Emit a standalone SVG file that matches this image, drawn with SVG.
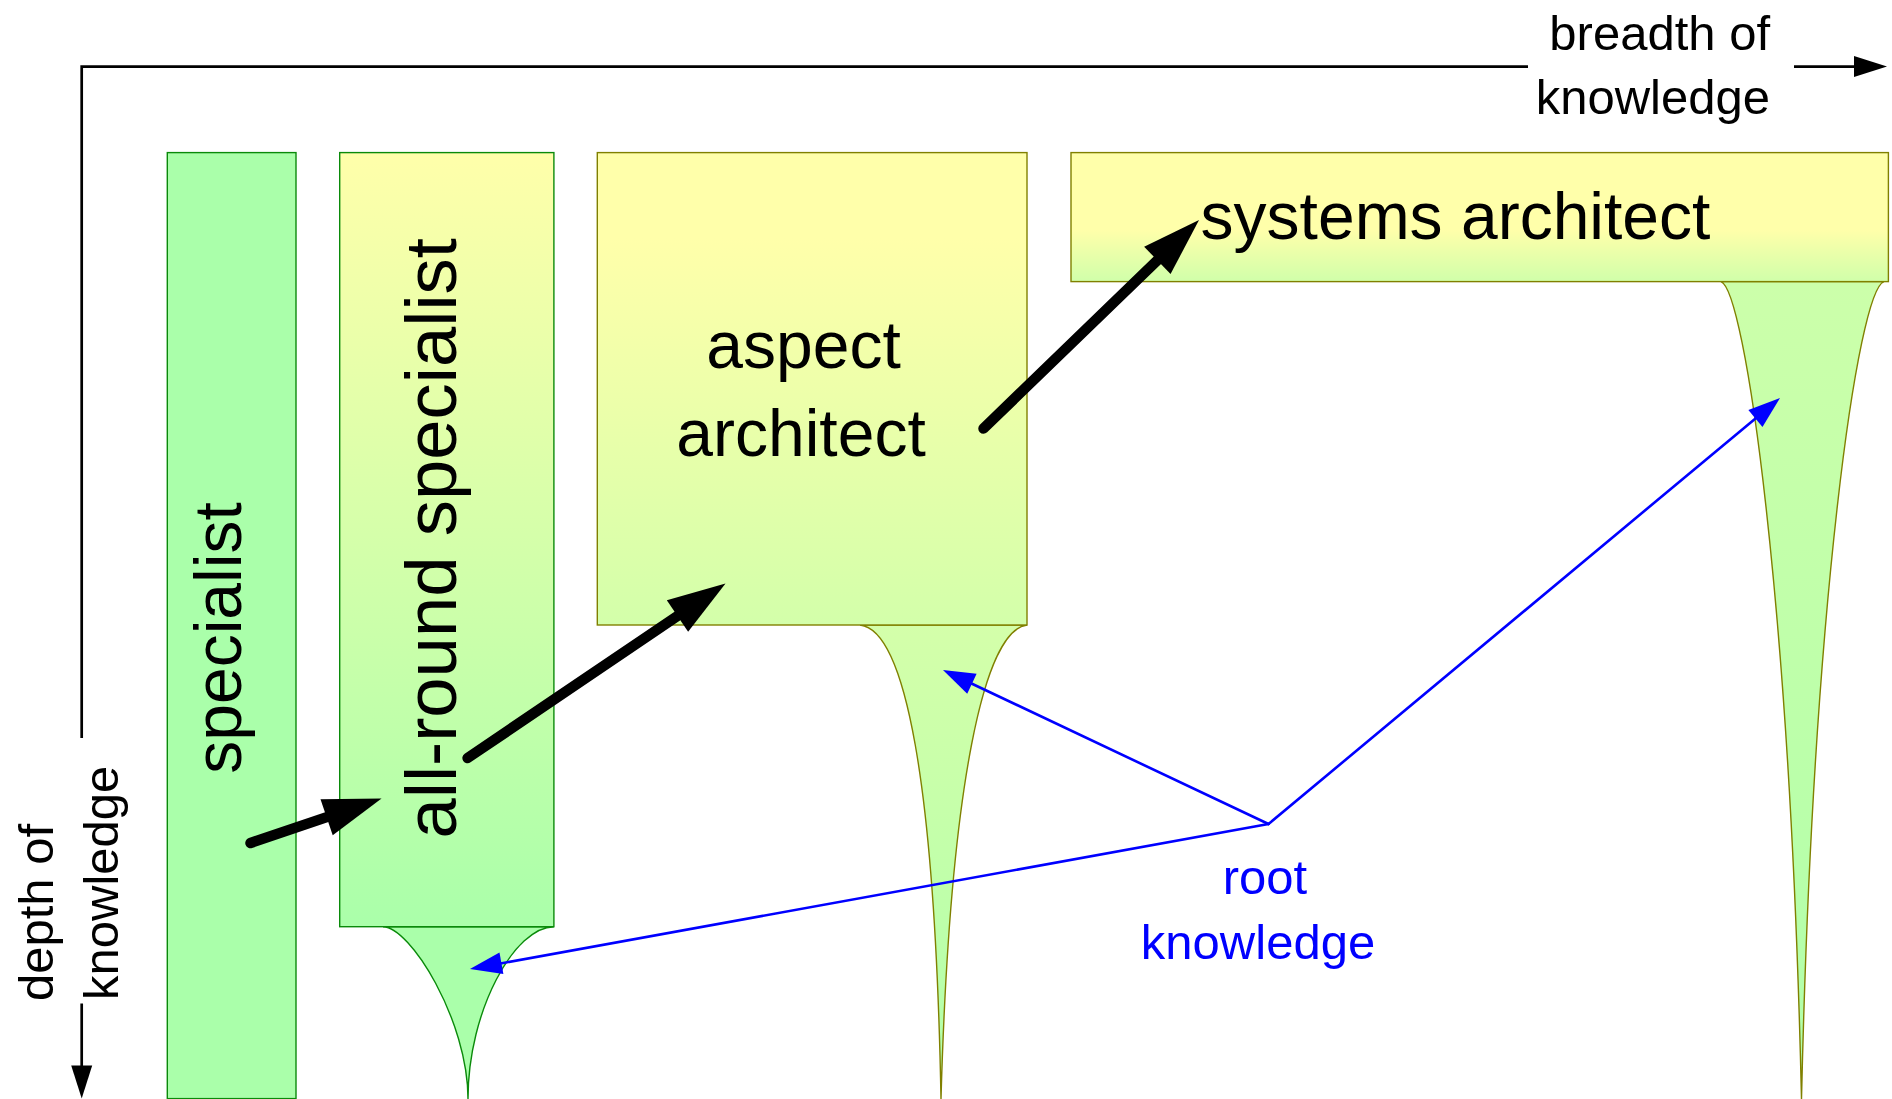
<svg xmlns="http://www.w3.org/2000/svg" width="1892" height="1099" viewBox="0 0 1892 1099">
  <style>
    .lbl { font-family: "Liberation Sans", Arial, Helvetica, sans-serif; fill: #000000; }
    .axis { fill: none; stroke: #000000; stroke-width: 2.7; stroke-linejoin: miter; }
    .big { stroke: #000000; stroke-width: 10.5; stroke-linecap: round; fill: none; }
    .blue { stroke: #0000ff; stroke-width: 2.6; stroke-linecap: round; fill: none; }
    .green { stroke: #0a8a0a; stroke-width: 1.4; }
    .olive { stroke: #808000; stroke-width: 1.4; }
  </style>
  <defs>
    <linearGradient id="gAll" x1="0" y1="0" x2="0" y2="1">
      <stop offset="0" stop-color="#ffffaa"/>
      <stop offset="1" stop-color="#aaffaa"/>
    </linearGradient>
    <linearGradient id="gAspect" x1="0" y1="0" x2="0" y2="1">
      <stop offset="0.18" stop-color="#ffffaa"/>
      <stop offset="1" stop-color="#d3ffaa"/>
    </linearGradient>
    <linearGradient id="gSys" x1="0" y1="0" x2="0" y2="1">
      <stop offset="0.6" stop-color="#ffffaa"/>
      <stop offset="1" stop-color="#d0ffaa"/>
    </linearGradient>
    <linearGradient id="gRootAspect" x1="0" y1="0" x2="0" y2="1">
      <stop offset="0" stop-color="#d4ffaa"/>
      <stop offset="1" stop-color="#b0ffaa"/>
    </linearGradient>
    <linearGradient id="gRootSys" x1="0" y1="0" x2="0" y2="1">
      <stop offset="0" stop-color="#ccffaa"/>
      <stop offset="1" stop-color="#b0ffaa"/>
    </linearGradient>
    <marker id="headBig" markerUnits="userSpaceOnUse" markerWidth="60" markerHeight="40" refX="8" refY="0" orient="auto" overflow="visible">
      <path d="M0,-19 L58,0 L0,19 Z" fill="#000000"/>
    </marker>
    <marker id="headBlue" markerUnits="userSpaceOnUse" markerWidth="34" markerHeight="24" refX="4" refY="0" orient="auto" overflow="visible">
      <path d="M0,-11 L32,0 L0,11 Z" fill="#0000ff"/>
    </marker>
    <marker id="headAxis" markerUnits="userSpaceOnUse" markerWidth="34" markerHeight="24" refX="4" refY="0" orient="auto" overflow="visible">
      <path d="M0,-10.5 L33,0 L0,10.5 Z" fill="#000000"/>
    </marker>
  </defs>

  <rect x="0" y="0" width="1892" height="1099" fill="#ffffff"/>

  <g id="axes">
    <path class="axis" d="M81.7,738 L81.7,66.6 L1528,66.6"/>
    <line class="axis" x1="1794" y1="66.6" x2="1858" y2="66.6" marker-end="url(#headAxis)"/>
    <line class="axis" x1="81.7" y1="1003.5" x2="81.7" y2="1069.5" marker-end="url(#headAxis)"/>
    <text class="lbl" font-size="49" text-anchor="end" x="1770" y="50">breadth of</text>
    <text class="lbl" font-size="49" text-anchor="end" x="1770" y="114">knowledge</text>
    <text class="lbl" font-size="49" transform="translate(53,1001) rotate(-90)">depth of</text>
    <text class="lbl" font-size="49" transform="translate(118,1000) rotate(-90)">knowledge</text>
  </g>

  <g id="specialist">
    <rect class="green" x="167.3" y="152.6" width="128.7" height="946" fill="#aaffaa"/>
    <text class="lbl" font-size="66" text-anchor="middle" transform="translate(240.5,638) rotate(-90)">specialist</text>
  </g>

  <g id="all-round-specialist">
    <path class="green" d="M383,926.7 C410,926.7 468,1020 468,1099 C468,1010 515,926.7 553.9,926.7 Z" fill="#aaffaa"/>
    <rect class="green" x="339.7" y="152.6" width="214.2" height="774.1" fill="url(#gAll)"/>
    <text class="lbl" font-size="72.5" text-anchor="middle" transform="translate(455.5,538.3) rotate(-90)">all-round specialist</text>
  </g>

  <g id="aspect-architect">
    <path class="olive" d="M860,625 C905,630 935,780 941,1099 C950,780 985,630 1027,625 Z" fill="url(#gRootAspect)"/>
    <rect class="olive" x="597.3" y="152.6" width="429.7" height="472.4" fill="url(#gAspect)"/>
    <text class="lbl" font-size="66" text-anchor="middle" x="803.5" y="368">aspect</text>
    <text class="lbl" font-size="66" text-anchor="middle" x="801" y="456">architect</text>
  </g>

  <g id="systems-architect">
    <path class="olive" d="M1721,281.6 C1745,290 1790,600 1801.5,1099 C1813,600 1858,290 1884,281.6 Z" fill="url(#gRootSys)"/>
    <rect class="olive" x="1071" y="152.6" width="817.4" height="129" fill="url(#gSys)"/>
    <text class="lbl" font-size="66" text-anchor="middle" x="1455.5" y="238.5">systems architect</text>
  </g>

  <g id="root-knowledge">
    <text class="lbl" font-size="49" text-anchor="middle" x="1265" y="893.7" fill="#0000ff" style="fill:#0000ff">root</text>
    <text class="lbl" font-size="49" text-anchor="middle" x="1258" y="958.6" style="fill:#0000ff">knowledge</text>
  </g>

  <g id="connectors">
    <line class="big" x1="250.5" y1="843" x2="334.2" y2="814.6" marker-end="url(#headBig)"/>
    <line class="big" x1="467.6" y1="758" x2="684.1" y2="611.5" marker-end="url(#headBig)"/>
    <line class="big" x1="983.5" y1="428.5" x2="1163.1" y2="254.8" marker-end="url(#headBig)"/>
    <line class="blue" x1="1268.5" y1="824" x2="497.5" y2="964" marker-end="url(#headBlue)"/>
    <line class="blue" x1="1268.5" y1="824" x2="968.3" y2="682" marker-end="url(#headBlue)"/>
    <line class="blue" x1="1268.5" y1="824" x2="1758.5" y2="415.9" marker-end="url(#headBlue)"/>
  </g>
</svg>
